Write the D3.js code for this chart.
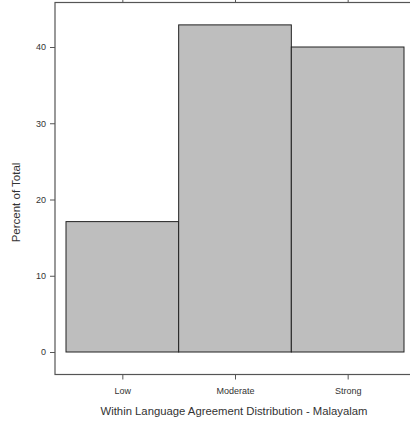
<!DOCTYPE html>
<html>
<head>
<meta charset="utf-8">
<script src="https://cdn.jsdelivr.net/npm/d3@7"></script>
<style>
  body { margin: 0; background: #fff; }
  svg { display: block; font-family: "Liberation Sans", Arial, sans-serif; }
</style>
</head>
<body>
<div id="chart"></div>
<script>
let categories = ["Low", "Moderate", "Strong"];
let percents = [17.1, 42.9, 40.0];
let yTicks = [0, 10, 20, 30, 40];

let width = 410;
let height = 424;

let box = { left: 55, top: 2.5, right: 417, bottom: 374.5 };

let svg = d3.select('#chart')
    .append('svg')
        .attr('width', width)
        .attr('height', height);

// bars span 0..3, categories centered at i + 0.5
let x = d3.scaleLinear().domain([0, categories.length]).range([66, 404]);
let y = d3.scaleLinear().domain([0, 40]).range([352, 47]);

// bars
svg.selectAll('rect.bar')
    .data(percents)
    .enter()
    .append('rect')
        .attr('class', 'bar')
        .attr('x', (d, i) => x(i))
        .attr('width', (d, i) => x(i + 1) - x(i))
        .attr('y', d => y(d))
        .attr('height', d => y(0) - y(d))
        .attr('fill', '#bebebe')
        .attr('stroke', '#222')
        .attr('stroke-width', 1);

// panel box
svg.append('rect')
    .attr('x', box.left)
    .attr('y', box.top)
    .attr('width', box.right - box.left)
    .attr('height', box.bottom - box.top)
    .attr('fill', 'none')
    .attr('stroke', '#555')
    .attr('stroke-width', 1.2);

// left axis
let yAxis = svg.append('g')
    .attr('transform', 'translate(' + box.left + ',0)')
    .call(d3.axisLeft(y).tickValues(yTicks).tickSize(5).tickPadding(4));
yAxis.select('.domain').remove();
yAxis.selectAll('line').attr('stroke', '#555');
yAxis.selectAll('text')
    .attr('font-size', '9px')
    .attr('fill', '#333')
    .attr('font-family', '"Liberation Sans", Arial, sans-serif');

// bottom and top axes
let xBand = d3.scalePoint().domain(categories)
    .range([x(0.5), x(categories.length - 0.5)]);

let xAxis = svg.append('g')
    .attr('transform', 'translate(0,' + box.bottom + ')')
    .call(d3.axisBottom(xBand).tickSize(5).tickPadding(8));
xAxis.select('.domain').remove();
xAxis.selectAll('line').attr('stroke', '#555');
xAxis.selectAll('text')
    .attr('font-size', '9px')
    .attr('fill', '#333')
    .attr('font-family', '"Liberation Sans", Arial, sans-serif');

let xTop = svg.append('g')
    .attr('transform', 'translate(0,' + box.top + ')')
    .call(d3.axisTop(xBand).tickSize(5).tickFormat(''));
xTop.select('.domain').remove();
xTop.selectAll('line').attr('stroke', '#555');

// Y Label
svg.append('text')
    .attr('transform', 'translate(20,' + ((box.top + box.bottom) / 2 + 14) + ') rotate(-90)')
    .attr('text-anchor', 'middle')
    .attr('font-size', '11.5px')
    .attr('fill', '#333')
    .text('Percent of Total');

// X Label
svg.append('text')
    .attr('x', 234)
    .attr('y', 415)
    .attr('text-anchor', 'middle')
    .attr('font-size', '11.3px')
    .attr('fill', '#333')
    .text('Within Language Agreement Distribution - Malayalam');
</script>
</body>
</html>
